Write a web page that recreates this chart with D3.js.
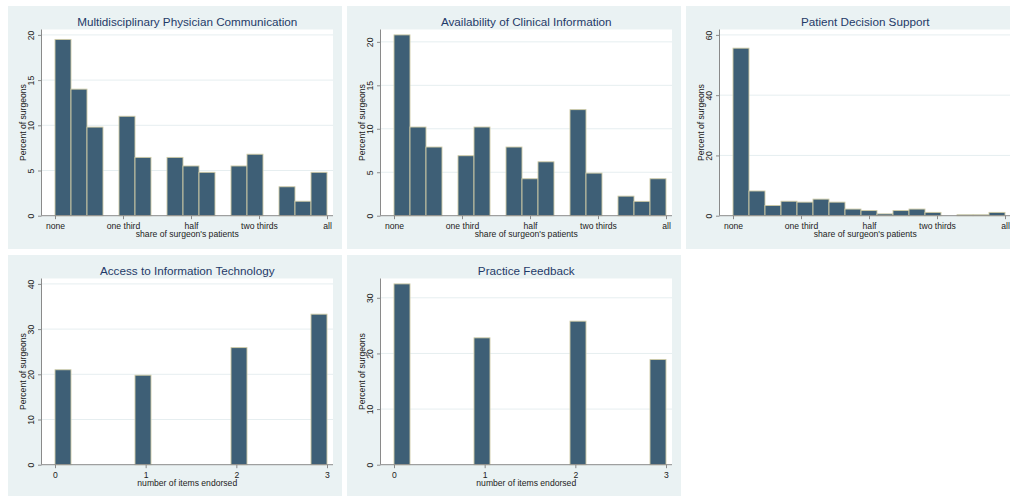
<!DOCTYPE html>
<html>
<head>
<meta charset="utf-8">
<script src="https://cdn.jsdelivr.net/npm/d3@7"></script>
<style>
  html, body { margin: 0; padding: 0; background: #ffffff; }
  svg { display: block; font-family: "Liberation Sans", Arial, Helvetica, sans-serif; }
</style>
</head>
<body>
<svg id="chart" width="1010" height="496"></svg>
<script>
// ---------------- DATA ----------------
const panelTitles = [
  "Multidisciplinary Physician Communication",
  "Availability of Clinical Information",
  "Patient Decision Support",
  "Access to Information Technology",
  "Practice Feedback"
];
const shareLabels = ["none", "one third", "half", "two thirds", "all"];
const shareAxisTitle = "share of surgeon's patients";
const itemsAxisTitle = "number of items endorsed";
const yAxisTitle = "Percent of surgeons";

// 17 histogram bins across the "share of patients" scale (percent of surgeons)
const physicianCommunication = [19.5, 14.0, 9.8, 0, 11.0, 6.45, 0, 6.45, 5.5, 4.8, 0, 5.5, 6.8, 0, 3.2, 1.6, 4.8];
const clinicalInformation    = [20.8, 10.2, 7.9, 0, 6.9, 10.2, 0, 7.9, 4.25, 6.2, 0, 12.2, 4.9, 0, 2.25, 1.65, 4.25];
const decisionSupport        = [55.6, 8.2, 3.4, 4.8, 4.5, 5.5, 4.5, 2.2, 1.7, 0.6, 1.7, 2.2, 1.1, 0, 0.3, 0.3, 1.1];

// number of items endorsed (0..3) and percent of surgeons
const itemsEndorsed      = [0, 1, 2, 3];
const infoTechnology     = [21.0, 19.8, 25.9, 33.3];
const practiceFeedback   = [32.5, 22.8, 25.8, 18.9];

// y tick values per panel
const yTicksShare1 = [0, 5, 10, 15, 20];
const yTicksShare2 = [0, 5, 10, 15, 20];
const yTicksShare3 = [0, 20, 40, 60];
const yTicksItems1 = [0, 10, 20, 30, 40];
const yTicksItems2 = [0, 10, 20, 30];

// ---------------- LAYOUT / STYLE ----------------
const NBINS = 17;
const panelW = 334, panelH = 243;
const plot = { left: 33.5, right: 325, top: 23.5, bottom: 209.7, dataLeft: 47, dataRight: 319, pad: 5.4 };
const colors = {
  panelBg: "#eaf2f3", plotBg: "#ffffff", grid: "#e6eef0",
  bar: "#3e5f76", barLine: "#cfcba6", axis: "#8a8a8a",
  title: "#1f3a68", text: "#222222"
};

const svg = d3.select("#chart");

function buildShareBins(values) {
  const w = (shareLabels.length - 1) / NBINS;
  return values.map((v, i) => ({ x0: i * w, x1: (i + 1) * w, y: v }));
}
function buildItemBins(cats, values) {
  const maxC = d3.max(cats);
  const w = maxC / NBINS;
  return cats.map((c, i) => {
    const b = Math.min(NBINS - 1, Math.floor(c / w + 1e-9));
    return { x0: b * w, x1: (b + 1) * w, y: values[i] };
  });
}

const panels = [
  { px: 8,   py: 6,   title: panelTitles[0], bins: buildShareBins(physicianCommunication), xDomain: [0, 4], xTicks: [0,1,2,3,4], xFmt: i => shareLabels[i], xTitle: shareAxisTitle, yTicks: yTicksShare1 },
  { px: 347, py: 6,   title: panelTitles[1], bins: buildShareBins(clinicalInformation),    xDomain: [0, 4], xTicks: [0,1,2,3,4], xFmt: i => shareLabels[i], xTitle: shareAxisTitle, yTicks: yTicksShare2 },
  { px: 686, py: 6,   title: panelTitles[2], bins: buildShareBins(decisionSupport),        xDomain: [0, 4], xTicks: [0,1,2,3,4], xFmt: i => shareLabels[i], xTitle: shareAxisTitle, yTicks: yTicksShare3 },
  { px: 8,   py: 255, title: panelTitles[3], bins: buildItemBins(itemsEndorsed, infoTechnology),   xDomain: [0, 3], xTicks: itemsEndorsed, xFmt: d => String(d), xTitle: itemsAxisTitle, yTicks: yTicksItems1 },
  { px: 347, py: 255, title: panelTitles[4], bins: buildItemBins(itemsEndorsed, practiceFeedback), xDomain: [0, 3], xTicks: itemsEndorsed, xFmt: d => String(d), xTitle: itemsAxisTitle, yTicks: yTicksItems2 }
];

panels.forEach(p => {
  const g = svg.append("g").attr("transform", `translate(${p.px},${p.py})`);

  g.append("rect").attr("x", 0).attr("y", 0).attr("width", panelW).attr("height", panelH).attr("fill", colors.panelBg);
  g.append("rect").attr("x", plot.left).attr("y", plot.top)
    .attr("width", plot.right - plot.left).attr("height", plot.bottom - plot.top).attr("fill", colors.plotBg);

  const x = d3.scaleLinear().domain(p.xDomain).range([plot.dataLeft, plot.dataRight]);
  const yMax = Math.max(d3.max(p.yTicks), d3.max(p.bins, d => d.y));
  const y = d3.scaleLinear().domain([0, yMax]).range([plot.bottom, plot.top + plot.pad]);

  // gridlines
  g.append("g").selectAll("line").data(p.yTicks.filter(t => t > 0)).join("line")
    .attr("x1", plot.left).attr("x2", plot.right)
    .attr("y1", d => y(d)).attr("y2", d => y(d))
    .attr("stroke", colors.grid).attr("stroke-width", 1);

  // bars
  g.append("g").selectAll("rect").data(p.bins.filter(d => d.y > 0)).join("rect")
    .attr("x", d => x(d.x0)).attr("width", d => x(d.x1) - x(d.x0))
    .attr("y", d => y(d.y)).attr("height", d => y(0) - y(d.y))
    .attr("fill", colors.bar).attr("stroke", colors.barLine).attr("stroke-width", 0.9);

  // y axis
  const yAxis = d3.axisLeft(y).tickValues(p.yTicks).tickSize(3.5).tickPadding(0).tickFormat(d3.format("d"));
  const ya = g.append("g").attr("transform", `translate(${plot.left},0)`).call(yAxis);
  ya.select(".domain").attr("d", `M0,${plot.top}V${plot.bottom}`).attr("stroke", colors.axis);
  ya.selectAll(".tick line").attr("stroke", colors.axis);
  ya.selectAll(".tick text")
    .attr("x", null).attr("dy", null)
    .attr("transform", "translate(-7.3,0) rotate(-90)")
    .attr("text-anchor", "middle")
    .attr("font-size", 8.6).attr("fill", colors.text);

  // x axis
  const xAxis = d3.axisBottom(x).tickValues(p.xTicks).tickSize(3.5).tickPadding(0).tickFormat(p.xFmt);
  const xa = g.append("g").attr("transform", `translate(0,${plot.bottom})`).call(xAxis);
  xa.select(".domain").attr("d", `M${plot.left},0H${plot.right}`).attr("stroke", colors.axis);
  xa.selectAll(".tick line").attr("stroke", colors.axis);
  xa.selectAll(".tick text").attr("y", 13.3).attr("dy", null)
    .attr("font-size", 8.6).attr("fill", colors.text);

  // axis titles
  g.append("text").attr("x", (plot.left + plot.right) / 2).attr("y", 231)
    .attr("text-anchor", "middle").attr("font-size", 8.6).attr("fill", colors.text).text(p.xTitle);
  g.append("text").attr("transform", `translate(17.7,${(plot.top + plot.bottom) / 2}) rotate(-90)`)
    .attr("text-anchor", "middle").attr("font-size", 8.6).attr("fill", colors.text).text(yAxisTitle);

  // panel title
  g.append("text").attr("x", (plot.left + plot.right) / 2).attr("y", 19.5)
    .attr("text-anchor", "middle").attr("font-size", 11.7).attr("fill", colors.title).text(p.title);
});
</script>
</body>
</html>
